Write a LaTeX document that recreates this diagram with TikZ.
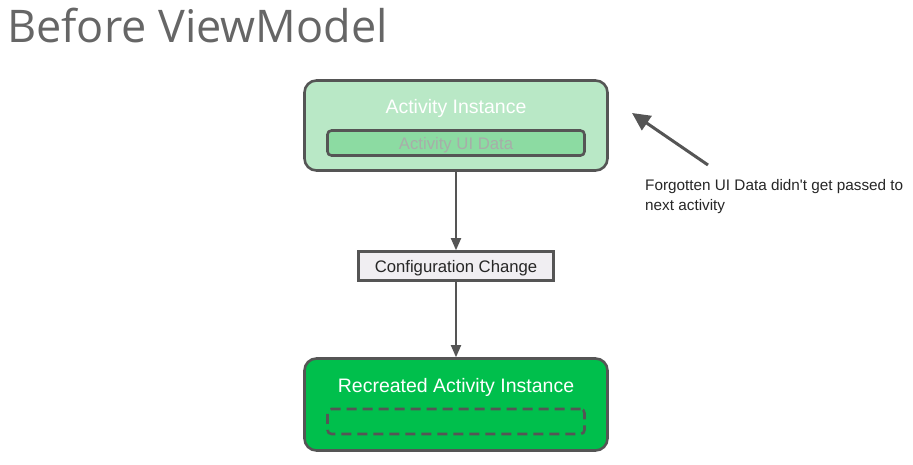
\documentclass[tikz,border=0pt]{standalone}
\usepackage{fontspec}
\setmainfont{Liberation Sans}
\newfontfamily\titlefont{Open Sans}
\usetikzlibrary{arrows.meta}
\definecolor{edge}{HTML}{555555}
\definecolor{palegreen}{HTML}{B9E8C6}
\definecolor{midgreen}{HTML}{8CDBA2}
\definecolor{fullgreen}{HTML}{00BF4C}
\definecolor{cfggray}{HTML}{F0EEF2}
\definecolor{titlegray}{HTML}{666666}
\definecolor{fadedtext}{HTML}{A8ADA9}

\begin{document}
\begin{tikzpicture}[x=1pt,y=-1pt,
		box/.style={draw=edge,line width=2.6pt,rounded corners=12pt,inner sep=0pt},
		slotbox/.style={draw=edge,line width=2.6pt,rounded corners=4pt,inner sep=0pt,minimum width=257pt,minimum height=25pt},
		label/.style={anchor=base,inner sep=0pt,font=\fontsize{19.5}{22}\selectfont},
		flow/.style={draw=edge,line width=1.8pt,-{Triangle[length=12pt,width=10pt]}}]
		\useasboundingbox (0,0) rectangle (913,464);
		\node[anchor=base west,inner sep=0pt,text=titlegray,font=\titlefont\fontsize{45}{50}\selectfont] (title) at (7,42) {Before ViewModel};
		% boxes
		\node[box,fill=palegreen,minimum width=303pt,minimum height=90pt] (act) at (456,125.5) {};
		\node[slotbox,fill=midgreen] (uidata) at (456,143) {};
		\node[box,fill=cfggray,rounded corners=0pt,minimum width=195pt,minimum height=29pt] (cfg) at (456,266) {};
		\node[box,fill=fullgreen,minimum width=303pt,minimum height=92pt] (recr) at (456,404.5) {};
		\node[slotbox,dash pattern=on 10pt off 6pt] (slot) at (456,421.5) {};
		% texts
		\node[label,text=white] (acttext) at (456,113) {Activity Instance};
		\node[label,text=fadedtext,font=\fontsize{16.7}{20}\selectfont] (uitext) at (456,149) {Activity UI Data};
		\node[label,text=black!85,font=\fontsize{16.7}{20}\selectfont] (cfgtext) at (456,272) {Configuration Change};
		\node[label,text=white] (recrtext) at (456,392) {Recreated Activity Instance};
		% flow
		\draw[flow] (act.south) -- (cfg.north);
		\draw[flow] (cfg.south) -- (recr.north);
		% note
		\coordinate (tail) at (708,165);
		\coordinate (tip) at (632,113);
		\draw[draw=edge,line width=3pt,-{Triangle[length=18pt,width=17pt]}] (tail) -- (tip);
		\node[anchor=north west,inner sep=0pt,align=left,text=black!85,font=\fontsize{15.3}{19.5}\selectfont] (note) at (645,179.5) {Forgotten UI Data didn\textquotesingle t get passed to\\next activity};
	\end{tikzpicture}
\end{document}
